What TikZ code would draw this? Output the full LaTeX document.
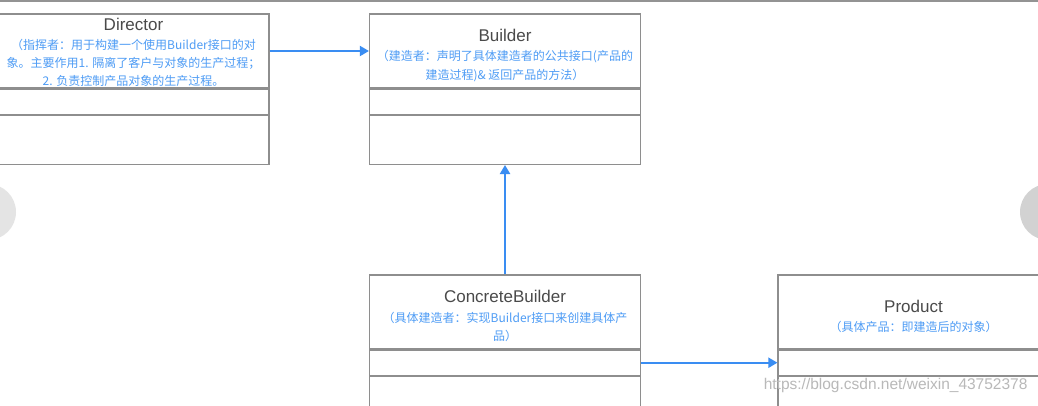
\documentclass[tikz,border=0pt]{standalone}
\usepackage{fontspec}
\setmainfont{Liberation Sans}
\newfontfamily\cjk{Noto Sans CJK SC}
\usetikzlibrary{arrows.meta,positioning}
\definecolor{umlLine}{HTML}{8E8E8E}
\definecolor{umlText}{HTML}{4A4A4A}
\definecolor{noteBlue}{HTML}{4E9CF5}
\definecolor{arrBlue}{HTML}{3A8DF2}
\definecolor{navGray}{HTML}{D2D2D2}
\newcommand{\cls}[2][21pt]{{\rmfamily\fontsize{17}{20}\selectfont\rule{0pt}{#1}#2}}
\newcommand{\lastln}[1]{\raisebox{0pt}[\height][-3pt]{#1}}
\tikzset{
  namebox/.style={rectangle, draw=umlLine, line width=1.2pt, fill=white, align=center,
                  text=noteBlue, font=\cjk\fontsize{12}{18.5}\selectfont,
                  minimum width=271pt, minimum height=74pt, inner sep=0pt},
  attrbox/.style={rectangle, draw=umlLine, line width=1.2pt, fill=white,
                  minimum width=271pt, minimum height=25pt, inner sep=0pt},
  opsbox/.style={rectangle, draw=umlLine, line width=1.2pt, fill=white,
                 minimum width=271pt, minimum height=49pt, inner sep=0pt},
  arr/.style={-{Triangle[length=9pt,width=10pt]}, line width=2pt, draw=arrBlue},
}

\begin{document}
\begin{tikzpicture}[x=1pt, y=1pt, node distance=0pt]
  \clip (0,0) rectangle (1038,-405);
  \fill[white] (0,0) rectangle (1038,-405);
  \fill[gray!85] (0,0) rectangle (1038,-2);
  % Director
  \node[namebox, font=\cjk\fontsize{12}{18}\selectfont] (dir) at (133.5,-51)
    {\textcolor{umlText}{\cls[14pt]{Director}}\\[1pt]
     （指挥者：用于构建一个使用Builder接口的对\\
     象。主要作用1. 隔离了客户与对象的生产过程；\\
     \lastln{2. 负责控制产品对象的生产过程。}};
  \node[attrbox, below=of dir] (dirA) {};
  \node[opsbox, below=of dirA] (dirO) {};
  % Builder
  \node[namebox] (bld) at (505,-51)
    {\textcolor{umlText}{\cls{Builder}}\\[1pt]
     （建造者：声明了具体建造者的公共接口(产品的\\
     建造过程)\& 返回产品的方法）};
  \node[attrbox, below=of bld] (bldA) {};
  \node[opsbox, below=of bldA] (bldO) {};
  % ConcreteBuilder
  \node[namebox] (cb) at (505,-312)
    {\textcolor{umlText}{\cls{ConcreteBuilder}}\\[1pt]
     （具体建造者：实现Builder接口来创建具体产\\
     品）};
  \node[attrbox, below=of cb] (cbA) {};
  \node[opsbox, below=of cbA] (cbO) {};
  % Product
  \node[namebox] (prd) at (913.5,-312)
    {\textcolor{umlText}{\cls{Product}}\\[1pt]
     （具体产品：即建造后的对象）};
  \node[attrbox, below=of prd] (prdA) {};
  \node[opsbox, below=of prdA] (prdO) {};

  \draw[arr] (dir) -- (bld);
  \draw[arr] (cb) -- (bldO);
  \draw[arr] (cbA) -- (prdA);

  % page arrows and watermark
  \fill[navGray!60] (-12,-212) circle (28);
  \fill[navGray] (1048,-212) circle (28);
  \node[text=gray!55, font=\fontsize{15.5}{18}\selectfont, anchor=east] (wm) at (1031,-385)
    {https://blog.csdn.net/weixin\_43752378};
\end{tikzpicture}
\end{document}
